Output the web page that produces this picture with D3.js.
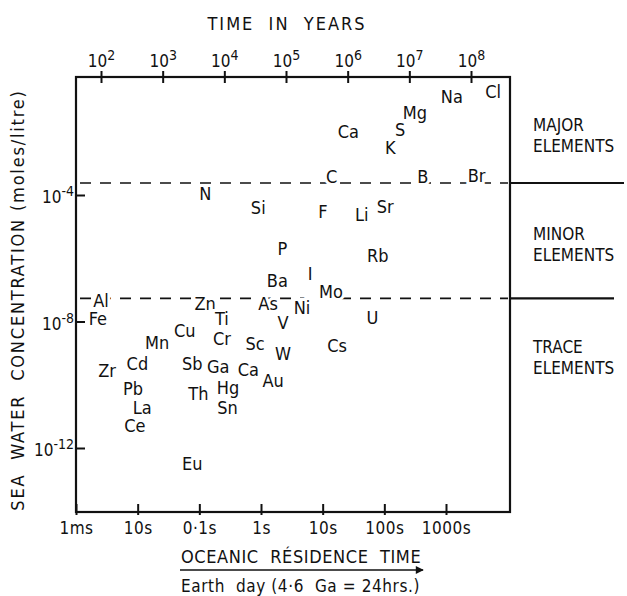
<!DOCTYPE html>
<html>
<head>
<meta charset="utf-8">
<script src="https://cdn.jsdelivr.net/npm/d3@7"></script>
<style>
    body { margin: 0; background: #fff; }
    svg text { font-family: "DejaVu Sans Condensed", "DejaVu Sans", sans-serif; fill: #111; white-space: pre; }
</style>
</head>
<body>
<div id="chart"></div>
<script>

// element symbols with log10(residence time in years) and log10(concentration, mol/l)
let elements = ["Na", "Cl", "Mg", "S", "K", "Ca", "C", "B", "Br", "F", "Li", "Sr", "Rb", "I", "Mo",
    "N", "Si", "P", "Ba", "Al", "Zn", "As", "Ni", "Fe", "Ti", "V", "Cu", "Mn", "Cr", "Sc", "W",
    "Cd", "Zr", "Sb", "Ga", "Ca", "Au", "Pb", "Th", "Hg", "La", "Sn", "Ce", "Eu", "U", "Cs"];
let residenceLog = [7.69, 8.36, 7.09, 6.85, 6.69, 6.01, 5.74, 7.22, 8.09, 5.60, 6.23, 6.61, 6.49, 5.39, 5.73,
    3.69, 4.55, 4.94, 4.86, 2.00, 3.69, 4.71, 5.26, 1.95, 3.96, 4.95, 3.36, 2.91, 3.96, 4.50, 4.95,
    2.59, 2.10, 3.48, 3.90, 4.39, 4.79, 2.52, 3.58, 4.06, 2.67, 4.05, 2.55, 3.48, 6.40, 5.83];
let concentrationLog = [-0.88, -0.72, -1.40, -1.94, -2.51, -2.00, -3.42, -3.42, -3.37, -4.53, -4.63, -4.37, -5.90, -6.48, -7.05,
    -3.94, -4.41, -5.68, -6.70, -7.33, -7.43, -7.43, -7.56, -7.90, -7.90, -8.03, -8.29, -8.67, -8.54, -8.70, -9.02,
    -9.33, -9.56, -9.33, -9.43, -9.52, -9.87, -10.13, -10.29, -10.10, -10.73, -10.73, -11.30, -12.48, -7.87, -8.76];

// axes
let yearTicks = [1e2, 1e3, 1e4, 1e5, 1e6, 1e7, 1e8];
let dayTicks = [1e-3, 1e-2, 1e-1, 1, 10, 100, 1000];
let dayLabels = ["1ms", "10s", "0·1s", "1s", "10s", "100s", "1000s"];
let concTicks = [1e-4, 1e-8, 1e-12];

// class boundaries (log10 concentration) and their names
let boundaries = [-3.62, -7.27];
let classNames = [["MAJOR", "ELEMENTS"], ["MINOR", "ELEMENTS"], ["TRACE", "ELEMENTS"]];

let W = 627, H = 596;
let frame = {left: 76, right: 510, top: 77, bottom: 512};

let svg = d3.select("#chart").append("svg")
    .attr("width", W)
    .attr("height", H);

// scales
let xYears = d3.scaleLog().domain([1e2, 1e8]).range([101, 471]);
let xDay = d3.scaleLog().domain([1e-3, 1e3]).range([frame.left, 446]);
let y = d3.scaleLog().domain([1e-4, 1e-12]).range([195, 448]);

// frame
svg.append("rect")
    .attr("x", frame.left)
    .attr("y", frame.top)
    .attr("width", frame.right - frame.left)
    .attr("height", frame.bottom - frame.top)
    .attr("fill", "none")
    .attr("stroke", "#111")
    .attr("stroke-width", 2.2);

function powerLabel(sel) {
    sel.text(null);
    sel.append("tspan").text("10");
    sel.append("tspan")
        .attr("dy", -7)
        .attr("font-size", 14)
        .text(d => String(Math.round(Math.log10(d))));
}

// top axis
svg.append("g")
    .attr("transform", `translate(0, ${frame.top})`)
    .call(d3.axisTop(xYears).tickValues(yearTicks).tickSize(6))
    .call(g => g.select(".domain").remove())
    .call(g => g.selectAll(".tick line").attr("y1", 6).attr("y2", -6).attr("stroke", "#111").attr("stroke-width", 2))
    .call(g => g.selectAll(".tick text")
        .attr("y", -10).attr("dy", 0)
        .attr("font-size", 17)
        .call(powerLabel));

svg.append("text")
    .attr("x", 287)
    .attr("y", 30)
    .attr("text-anchor", "middle")
    .attr("font-size", 18)
    .attr("letter-spacing", 2)
    .text("TIME  IN  YEARS");

// bottom axis
svg.append("g")
    .attr("transform", `translate(0, ${frame.bottom})`)
    .call(d3.axisBottom(xDay).tickValues(dayTicks).tickFormat((d, i) => dayLabels[i]).tickSize(3))
    .call(g => g.select(".domain").remove())
    .call(g => g.selectAll(".tick line").attr("y1", -8).attr("y2", 3).attr("stroke", "#111").attr("stroke-width", 2))
    .call(g => g.selectAll(".tick text")
        .attr("y", 22).attr("dy", 0)
        .attr("font-size", 17)
        .attr("letter-spacing", 0.5));

// left axis
svg.append("g")
    .attr("transform", `translate(${frame.left}, 0)`)
    .call(d3.axisLeft(y).tickValues(concTicks).tickSize(0))
    .call(g => g.select(".domain").remove())
    .call(g => g.selectAll(".tick line").attr("x1", 0).attr("x2", 9).attr("stroke", "#111").attr("stroke-width", 2))
    .call(g => g.selectAll(".tick text")
        .attr("x", -2).attr("dy", "0.45em")
        .attr("font-size", 17)
        .call(powerLabel));

svg.append("text")
    .attr("transform", `translate(24, 300) rotate(-90)`)
    .attr("text-anchor", "middle")
    .attr("font-size", 18)
    .attr("letter-spacing", 1.8)
    .text("SEA  WATER  CONCENTRATION (moles/litre)");

// class boundaries: dashed inside, solid outside
boundaries.forEach((b, i) => {
    svg.append("line")
        .attr("x1", frame.left + 4).attr("x2", frame.right - 2)
        .attr("y1", y(Math.pow(10, b))).attr("y2", y(Math.pow(10, b)))
        .attr("stroke", "#111")
        .attr("stroke-width", 1.7)
        .attr("stroke-dasharray", "11,9");
    svg.append("line")
        .attr("x1", frame.right).attr("x2", i === 0 ? 624 : 614)
        .attr("y1", y(Math.pow(10, b))).attr("y2", y(Math.pow(10, b)))
        .attr("stroke", "#111")
        .attr("stroke-width", 2.2);
});

let classY = [131, 240, 353];
classNames.forEach((lines, i) => {
    let t = svg.append("text")
        .attr("x", 533)
        .attr("y", classY[i])
        .attr("font-size", 17);
    lines.forEach((l, j) => t.append("tspan")
        .attr("x", 533)
        .attr("dy", j === 0 ? 0 : 21)
        .text(l));
});

// element labels
let points = elements.map((e, i) => ({name: e, x: Math.pow(10, residenceLog[i]), c: Math.pow(10, concentrationLog[i])}));

svg.append("g")
    .selectAll("text")
    .data(points)
    .enter()
    .append("text")
    .attr("x", d => xYears(d.x))
    .attr("y", d => y(d.c))
    .attr("dy", "0.36em")
    .attr("text-anchor", "middle")
    .attr("font-size", 18)
    .attr("font-family", d => d.name === "I" ? "DejaVu Serif, serif" : null)
    .attr("stroke", "#fff")
    .attr("stroke-width", 6)
    .attr("paint-order", "stroke")
    .text(d => d.name);

// residence time caption with arrow
svg.append("defs").append("marker")
    .attr("id", "arrow")
    .attr("viewBox", "0 0 10 10")
    .attr("refX", 9).attr("refY", 5)
    .attr("markerWidth", 11).attr("markerHeight", 8)
    .attr("markerUnits", "userSpaceOnUse")
    .attr("orient", "auto")
    .append("path")
    .attr("d", "M0,0 L10,5 L0,10 Z")
    .attr("fill", "#111");

svg.append("text")
    .attr("x", 181)
    .attr("y", 563)
    .attr("font-size", 18)
    .attr("letter-spacing", 0.6)
    .text("OCEANIC  RÉSIDENCE  TIME");

svg.append("line")
    .attr("x1", 180).attr("x2", 423)
    .attr("y1", 570).attr("y2", 570)
    .attr("stroke", "#111")
    .attr("stroke-width", 1.7)
    .attr("marker-end", "url(#arrow)");

svg.append("text")
    .attr("x", 181)
    .attr("y", 592)
    .attr("font-size", 17)
    .attr("letter-spacing", 0.6)
    .text("Earth  day (4·6  Ga = 24hrs.)");

</script>
</body>
</html>
